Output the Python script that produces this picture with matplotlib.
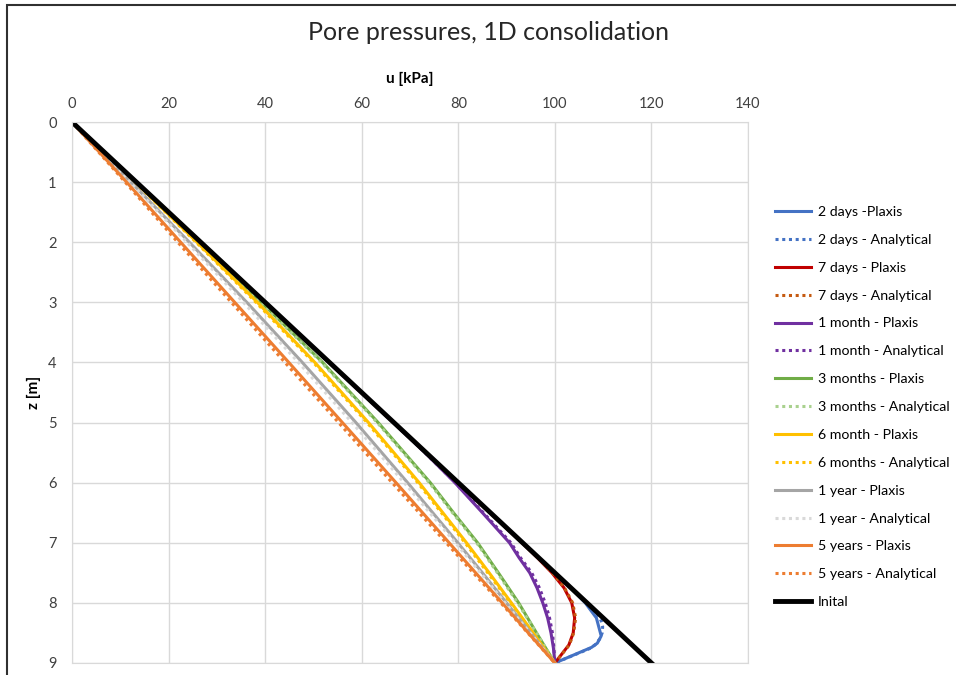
import matplotlib
matplotlib.use("Agg")
import matplotlib.pyplot as plt
from matplotlib.patches import Rectangle

plt.rcParams['font.family'] = ['Lato', 'DejaVu Sans']

# depths [m] and pore pressures [kPa]
z_init = [0, 9]
u_init = [0, 120]

z_2d_p = [0, 7.75, 8.0, 8.25, 8.4, 8.55, 8.67, 8.74, 9]
u_2d_p = [0, 103.3, 106.3, 108.6, 109.1, 109.6, 108.8, 107.6, 100]
z_2d_a = [0, 7.9, 8.1, 8.2, 8.3, 8.4, 8.5, 8.6, 8.7, 8.75, 9]
u_2d_a = [0, 105.3, 107.8, 108.9, 109.6, 109.9, 109.8, 109.3, 108.3, 107.5, 100]

z_7d = [0, 7.0, 7.25, 7.5, 7.75, 8.0, 8.25, 8.5, 8.7, 9]
u_7d_p = [0, 93.2, 96.4, 99.4, 101.9, 103.5, 104.1, 103.8, 102.9, 100]
u_7d_a = [0, 93.3, 96.5, 99.5, 102.0, 103.7, 104.3, 103.9, 103.0, 100]

z_1m = [0, 1, 2, 3, 4, 5, 5.5, 6, 6.5, 7, 7.25, 7.5, 7.75, 8, 8.25, 8.5, 8.75, 9]
u_1m_p = [0, 13.3, 26.6, 40.0, 53.3, 66.6, 73.1, 79.3, 85.0, 90.6, 92.6, 94.8, 96.3, 97.5, 98.5, 99.2, 99.7, 100]
u_1m_a = [0, 13.3, 26.6, 40.0, 53.3, 66.6, 73.1, 79.4, 85.2, 90.9, 92.9, 95.2, 96.8, 98.0, 98.9, 99.5, 99.8, 100]

z_main = [0, 1, 2, 3, 4, 5, 6, 6.5, 7, 7.5, 8, 8.5, 9]
u_3m_p = [0, 13.2, 26.3, 39.2, 51.9, 63.4, 74.2, 79.0, 84.0, 88.3, 92.5, 96.2, 100]
u_3m_a = [0, 13.1, 26.2, 39.0, 51.7, 63.2, 74.0, 78.8, 83.8, 88.1, 92.3, 96.2, 100]
u_6m_p = [0, 13.1, 25.9, 38.4, 50.3, 61.4, 71.9, 76.8, 81.7, 86.4, 91.0, 95.5, 100]
u_6m_a = [0, 13.0, 25.7, 38.1, 50.0, 61.1, 71.6, 76.5, 81.4, 86.1, 90.8, 95.4, 100]
u_1y_p = [0, 12.2, 24.3, 36.2, 47.7, 58.8, 69.5, 74.7, 79.9, 85.0, 90.0, 95.0, 100]
u_1y_a = [0, 12.0, 23.8, 35.5, 46.9, 58.0, 68.8, 74.1, 79.4, 84.6, 89.7, 94.9, 100]
u_5y_p = [0, 11.3, 22.5, 33.7, 44.9, 56.0, 67.1, 72.6, 78.1, 83.6, 89.1, 94.5, 100]
u_5y_a = [0, 11.0, 21.9, 33.0, 44.1, 55.2, 66.3, 71.9, 77.5, 83.1, 88.8, 94.4, 100]

dot = (0, (1, 1.2))
series = [
    (u_2d_p, z_2d_p, '2 days -Plaxis', '#4472C4', '-'),
    (u_2d_a, z_2d_a, '2 days - Analytical', '#4472C4', dot),
    (u_7d_p, z_7d, '7 days - Plaxis', '#C00000', '-'),
    (u_7d_a, z_7d, '7 days - Analytical', '#C55A11', dot),
    (u_1m_p, z_1m, '1 month - Plaxis', '#7030A0', '-'),
    (u_1m_a, z_1m, '1 month - Analytical', '#7030A0', dot),
    (u_3m_p, z_main, '3 months - Plaxis', '#70AD47', '-'),
    (u_3m_a, z_main, '3 months - Analytical', '#A9D18E', dot),
    (u_6m_p, z_main, '6 month - Plaxis', '#FFC000', '-'),
    (u_6m_a, z_main, '6 months - Analytical', '#FFC000', dot),
    (u_1y_p, z_main, '1 year - Plaxis', '#A5A5A5', '-'),
    (u_1y_a, z_main, '1 year - Analytical', '#D9D9D9', dot),
    (u_5y_p, z_main, '5 years - Plaxis', '#ED7D31', '-'),
    (u_5y_a, z_main, '5 years - Analytical', '#ED7D31', dot),
]

fig = plt.figure(figsize=(9.56, 6.75), dpi=100)
ax = fig.add_axes([72 / 956, 1 - 663 / 675, (748 - 72) / 956, (663 - 122) / 675])

for u, z, name, col, ls in series:
    ax.plot(u, z, color=col, linestyle=ls, lw=2.2, label=name)
ax.plot(u_init, z_init, color='black', lw=3.5, label='Inital')

ax.set_xlim(0, 140)
ax.set_ylim(9, 0)
ax.set_xticks(range(0, 141, 20))
ax.set_yticks(range(0, 10))
ax.xaxis.tick_top()
ax.xaxis.set_label_position('top')
ax.tick_params(length=0, labelsize=10.5, colors='#404040')
ax.tick_params(axis='x', pad=8)
ax.tick_params(axis='y', pad=11)
ax.grid(True, color='#D9D9D9', lw=1)
ax.set_axisbelow(True)
for s in ax.spines.values():
    s.set_color('#D9D9D9')

ax.set_xlabel('u [kPa]', fontsize=11, fontweight='bold', labelpad=10)
ax.set_ylabel('z [m]', fontsize=11, fontweight='bold', labelpad=5)

fig.text(488 / 956, 1 - 33 / 675, 'Pore pressures, 1D consolidation',
         ha='center', va='center', fontsize=18, color='#262626')

ax.legend(loc='upper left', bbox_to_anchor=(775 / 956, 1 - 206 / 675),
          bbox_transform=fig.transFigure, frameon=False, fontsize=10.2,
          borderpad=0, borderaxespad=0, handlelength=2.55, handletextpad=0.45,
          labelspacing=1.12)

# chart frame (screenshot is cropped on right and bottom)
fig.add_artist(Rectangle((7 / 956, -0.5), 1.5, 0.5 + 1 - 5 / 675, fill=False,
                         lw=1.5, ec='#303030', transform=fig.transFigure))

fig.savefig('out.png', dpi=100)
